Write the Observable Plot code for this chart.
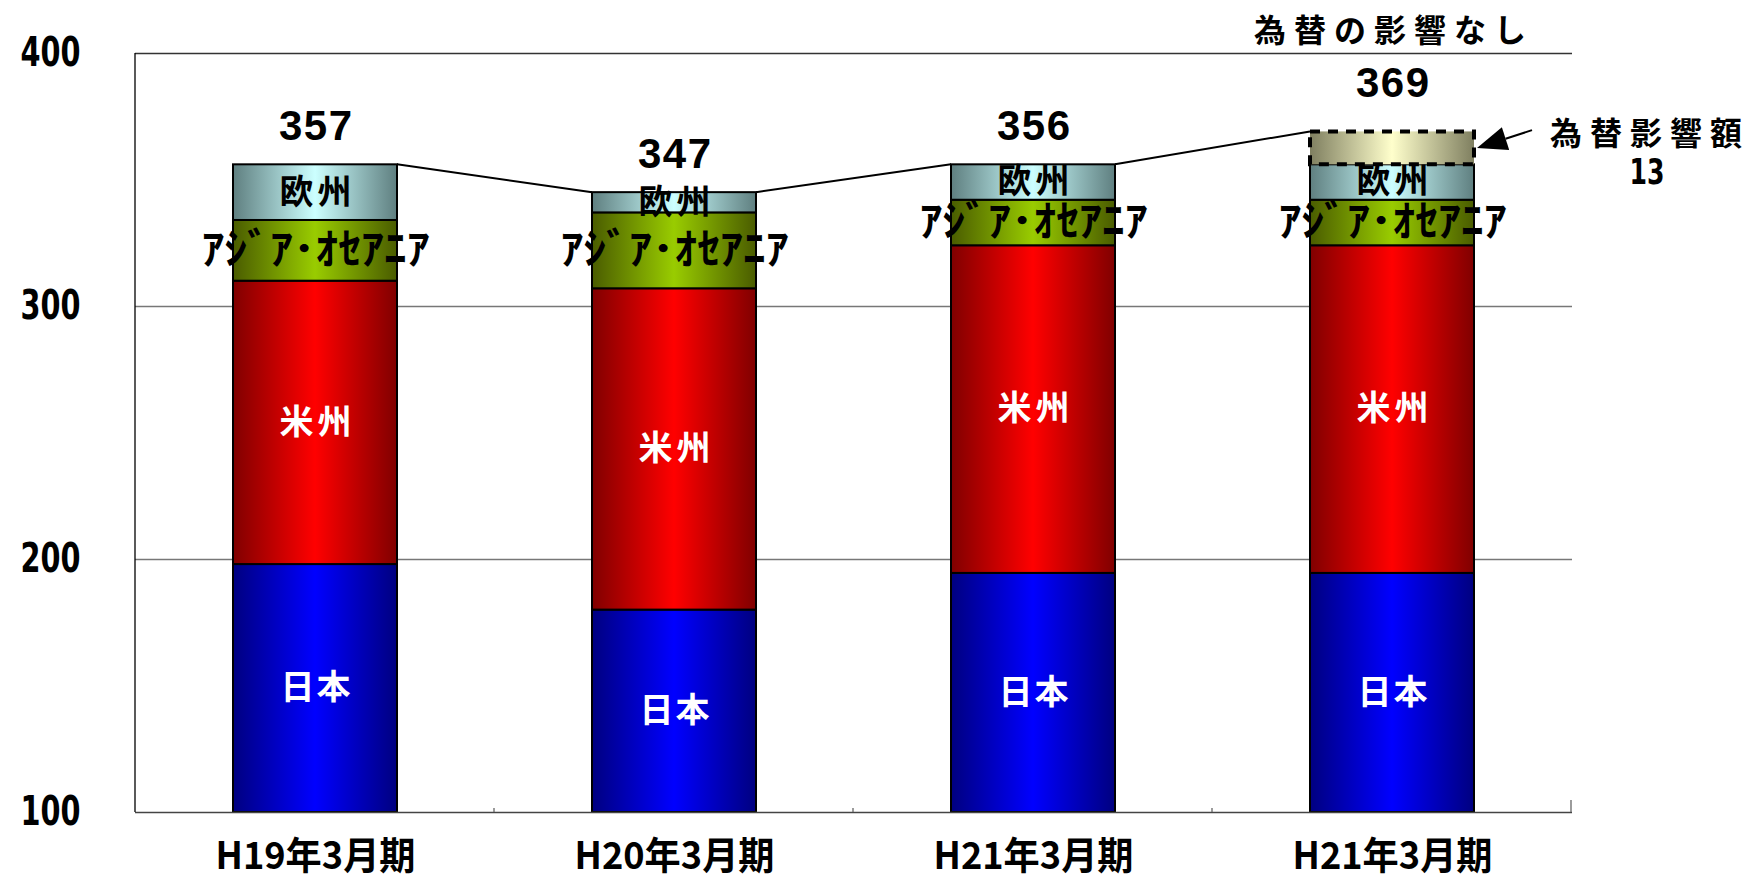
<!DOCTYPE html>
<html><head><meta charset="utf-8">
<script src="https://cdn.jsdelivr.net/npm/d3@7"></script>
<script src="https://cdn.jsdelivr.net/npm/@observablehq/plot@0.6"></script>
<style>
html,body{margin:0;padding:0;background:#fff;}
#chart svg{display:block;}
</style>
</head><body><div id="chart"></div>
<script>
// ---- data ----
const periods = ["H19", "H20", "H21", "H21x"];
const periodLabels = ["H19年3月期", "H20年3月期", "H21年3月期", "H21年3月期"];
const regions = ["日本", "米州", "ｱｼﾞｱ･ｵｾｱﾆｱ", "欧州", "為替影響額"];
const japan = [198, 180, 194.5, 194.5];
const americas = [112, 127, 129.5, 129.5];
const asiaOceania = [24, 30, 18, 18];
const europe = [22, 8, 14, 14];
const fxEffect = [0, 0, 0, 13];
const totalLabels = [357, 347, 356, 369];
const yTicks = [100, 200, 300, 400];
const fxNote = "為替の影響なし";
const fxLabel = "為替影響額";
const fxValueLabel = "13";

// ---- table ----
const series = [japan, americas, asiaOceania, europe, fxEffect];
const keys = ["japan", "americas", "asia", "europe", "fx"];
const rows = [];
periods.forEach((p, i) => {
  let acc = 0;
  series.forEach((s, k) => {
    const v = s[i];
    if (v > 0) rows.push({period: p, key: keys[k], name: regions[k], y1: acc, y2: acc + v});
    acc += v;
  });
});
const tops = periods.map((p, i) => ({period: p, top: d3.sum(series, s => s[i]), label: String(totalLabels[i])}));

const fills = {japan: "url(#g-japan)", americas: "url(#g-americas)", asia: "url(#g-asia)", europe: "url(#g-europe)", fx: "url(#g-fx)"};
const mid = d => (Math.max(d.y1, 100) + d.y2) / 2;
const cjk = "'Noto Sans CJK JP', 'Noto Sans CJK SC', sans-serif";
const narrow = "'Liberation Sans Narrow', 'DejaVu Sans Condensed', 'Liberation Sans', sans-serif";
const latin = "'Liberation Sans', Arial, sans-serif";

const plot = Plot.plot({
  width: 1753, height: 892,
  marginLeft: 135, marginRight: 181, marginTop: 53, marginBottom: 80,
  style: {fontFamily: cjk, background: "#fff", overflow: "visible", color: "#000"},
  x: {domain: periods, paddingInner: 0.5435, paddingOuter: 0.27175},
  y: {domain: [100, 400], clamp: true},
  marks: [
    Plot.gridY([200, 300], {stroke: "#777", strokeOpacity: 1, strokeWidth: 1.3}),
    Plot.ruleY([400], {stroke: "#333", strokeWidth: 1.3}),
    Plot.axisY({ticks: yTicks, tickSize: 0, tickPadding: 55, fontSize: 40, fontWeight: "bold", fontFamily: narrow, label: null}),
    Plot.axisX({tickSize: 0, tickPadding: 30, fontSize: 38, fontWeight: "bold", fontFamily: cjk, label: null,
      tickFormat: d => periodLabels[periods.indexOf(d)]}),
    ...["japan", "americas", "asia", "europe"].map(k =>
      Plot.barY(rows.filter(r => r.key === k), {x: "period", y1: "y1", y2: "y2", fill: fills[k], stroke: "#000", strokeWidth: 2})),
    Plot.barY(rows.filter(r => r.key === "fx"), {x: "period", y1: "y1", y2: "y2", fill: fills.fx, stroke: "#000", strokeWidth: 4, strokeDasharray: "10,8"}),
    Plot.ruleY([100], {stroke: "#444", strokeWidth: 1.3}),
    Plot.text(rows.filter(r => r.key === "japan" || r.key === "americas"), {x: "period", y: mid, text: "name", fill: "#fff", fontSize: 34, fontWeight: "bold"}),
    Plot.text(rows.filter(r => r.key === "europe"), {x: "period", y: mid, text: "name", fill: "#000", fontSize: 34, fontWeight: "bold"}),
    Plot.text(rows.filter(r => r.key === "asia"), {x: "period", y: mid, text: "name", fill: "#000", fontSize: 42, fontWeight: "bold"}),
    Plot.text(tops.slice(0, 3), {x: "period", y: "top", text: "label", dy: -38, fontSize: 42, fontWeight: "bold", fontFamily: latin}),
    Plot.text(tops.slice(3), {x: "period", y: "top", text: "label", dy: -48, fontSize: 42, fontWeight: "bold", fontFamily: latin})
  ]
});

const svg = d3.select(plot);
const defs = svg.insert("defs", ":first-child");
[["g-japan", "#000080", "#0000ff"], ["g-americas", "#800000", "#ff0000"], ["g-asia", "#4a5c00", "#99cc00"],
 ["g-europe", "#5f7f80", "#ccffff"], ["g-fx", "#7f7f60", "#ffffcc"]].forEach(([id, edge, c]) => {
  const g = defs.append("linearGradient").attr("id", id).attr("x1", 0).attr("x2", 1).attr("y1", 0).attr("y2", 0);
  g.append("stop").attr("offset", "0%").attr("stop-color", edge);
  g.append("stop").attr("offset", "50%").attr("stop-color", c);
  g.append("stop").attr("offset", "100%").attr("stop-color", edge);
});

// text fitting (condensed look of the original)
const fit = {"日本": [70, "spacing"], "米州": [72, "spacing"], "欧州": [72, "spacing"], "ｱｼﾞｱ･ｵｾｱﾆｱ": [228, "spacingAndGlyphs"]};
tops.forEach(t => fit[t.label] = [73, "spacing"]);
svg.selectAll("text").each(function () {
  const f = fit[this.textContent];
  if (f) d3.select(this).attr("textLength", f[0]).attr("lengthAdjust", f[1]);
});
svg.selectAll('g[aria-label="y-axis tick label"] text').attr("textLength", 60).attr("lengthAdjust", "spacingAndGlyphs");
svg.selectAll('g[aria-label="x-axis tick label"] text').attr("textLength", 200).attr("lengthAdjust", "spacingAndGlyphs");

const xs = plot.scale("x"), ys = plot.scale("y");
const bw = xs.bandwidth, step = xs.step;
const [xl, xr] = xs.range;
const ann = svg.append("g");
// left axis line
ann.append("line").attr("x1", xl).attr("x2", xl).attr("y1", ys.apply(100)).attr("y2", ys.apply(400)).attr("stroke", "#000").attr("stroke-width", 1.3);
// band boundary ticks
for (let k = 1; k <= periods.length; k++) {
  const x = xl + step * k;
  ann.append("line").attr("x1", x).attr("x2", x).attr("y1", ys.apply(100)).attr("y2", ys.apply(100) - (k === periods.length ? 12 : 4)).attr("stroke", "#666").attr("stroke-width", 1.3);
}
// connecting lines between bar tops
for (let i = 0; i < periods.length - 1; i++) {
  ann.append("line")
    .attr("x1", xs.apply(periods[i]) + bw).attr("y1", ys.apply(tops[i].top))
    .attr("x2", xs.apply(periods[i + 1])).attr("y2", ys.apply(tops[i + 1].top))
    .attr("stroke", "#000").attr("stroke-width", 2);
}
// title above last bar
const cx4 = xs.apply(periods[3]) + bw / 2;
ann.append("text").text(fxNote).attr("x", cx4 + 2).attr("y", ys.apply(400) - 25)
  .attr("text-anchor", "middle").attr("dominant-baseline", "central")
  .style("font", `bold 32px ${cjk}`).style("letter-spacing", "8px");
// fx label
const fxTop = tops[3].top, fxMid = tops[3].top - fxEffect[3] / 2;
ann.append("text").text(fxLabel).attr("x", xr + 78).attr("y", ys.apply(fxTop))
  .attr("text-anchor", "middle").attr("dominant-baseline", "central")
  .style("font", `bold 32px ${cjk}`).style("letter-spacing", "8px");
ann.append("text").text(fxValueLabel).attr("x", xr + 75).attr("y", ys.apply(fxTop) + 40)
  .attr("text-anchor", "middle").attr("dominant-baseline", "central")
  .attr("textLength", 35).attr("lengthAdjust", "spacingAndGlyphs")
  .style("font", `bold 36px ${narrow}`);
// arrow
const ax1 = xr - 40, ay1 = ys.apply(fxTop + 0.5);
const ax2 = xs.apply(periods[3]) + bw + 3, ay2 = ys.apply(fxMid);
const ang = Math.atan2(ay2 - ay1, ax2 - ax1);
const L = 30, Wd = 12;
const bx = ax2 - L * Math.cos(ang), by = ay2 - L * Math.sin(ang);
ann.append("line").attr("x1", ax1).attr("y1", ay1).attr("x2", bx).attr("y2", by).attr("stroke", "#000").attr("stroke-width", 2);
ann.append("polygon").attr("points", [
  [ax2, ay2],
  [bx + Wd * Math.sin(ang), by - Wd * Math.cos(ang)],
  [bx - Wd * Math.sin(ang), by + Wd * Math.cos(ang)]
].map(p => p.join(",")).join(" ")).attr("fill", "#000");

document.getElementById("chart").appendChild(plot);
</script>
</body></html>
